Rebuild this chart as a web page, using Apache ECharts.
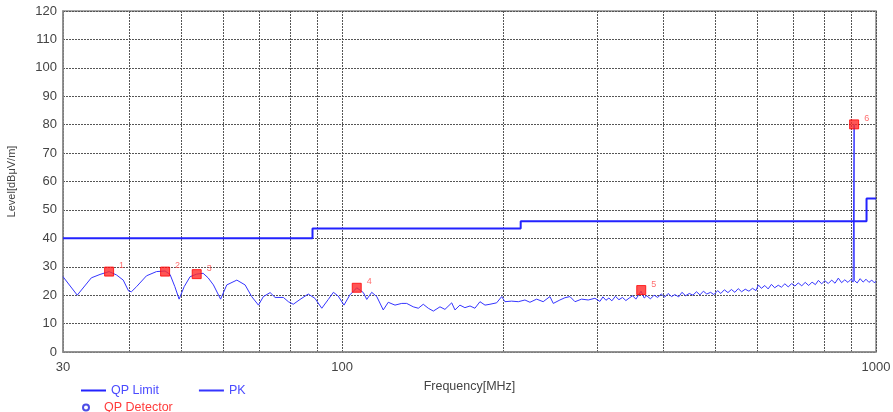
<!DOCTYPE html>
<html>
<head>
<meta charset="utf-8">
<script src="https://cdn.jsdelivr.net/npm/echarts@6/dist/echarts.min.js"></script>
<style>html,body{margin:0;padding:0;background:#fff}#c{width:893px;height:412px}</style>
</head>
<body>
<div id="c"></div>
<script>
// ---- data ----
var xLabelValues = [30, 100, 1000];
var xGridValues = [30, 40, 50, 60, 70, 80, 90, 100, 200, 300, 400, 500, 600, 700, 800, 900, 1000];
var qpLimit = [[30, 40], [88, 40], [88, 43.5], [216, 43.5], [216, 46], [960, 46], [960, 54], [1000, 54]];
var pkTrace = [
  [30, 26.5], [31.9, 20.0], [33.9, 26.1], [35.2, 27.3], [36.6, 28.3], [37.8, 27.1], [38.9, 25.3], [39.8, 21.5],
  [40.3, 21.2], [41.2, 23.0], [43.0, 26.8], [44.9, 28.3], [46.6, 28.5], [47.6, 27.3], [48.6, 23.0], [49.5, 18.6],
  [50.6, 23.0], [51.9, 26.5], [53.4, 27.4], [54.9, 27.7], [56.1, 26.1], [57.4, 23.6], [59.2, 18.6], [60.8, 23.6],
  [63.5, 25.3], [65.8, 23.6], [67.7, 19.5], [69.7, 16.5], [71.2, 19.5], [73.3, 20.9], [74.9, 19.2], [77.6, 19.2],
  [79.3, 17.7], [81.0, 16.8], [83.4, 18.5], [86.4, 20.4], [88.9, 18.9], [91.6, 15.4], [94.2, 18.5], [96.3, 21.0],
  [98.3, 19.7], [100.8, 16.5], [103.4, 20.1], [106.5, 22.6], [109.6, 20.9], [111.2, 18.5], [113.6, 21.0], [116.1, 19.5],
  [119.4, 14.8], [122.0, 17.5], [125.6, 16.5], [129.3, 17.1], [132.1, 17.1], [135.9, 15.9], [138.9, 15.4], [141.9, 16.8],
  [145.0, 15.4], [148.2, 14.4], [152.5, 15.9], [155.8, 15.0], [160.4, 17.3], [162.7, 14.8], [166.2, 16.5], [169.8, 15.6],
  [173.6, 16.2], [177.3, 15.4], [181.2, 17.7], [185.2, 16.5], [189.2, 16.8], [194.7, 17.3], [199.0, 19.5], [201.8, 17.7],
  [207.7, 17.9], [213.8, 17.7], [220.0, 18.3], [224.8, 17.5], [231.4, 18.6], [238.0, 17.7], [245.0, 19.5], [248.6, 17.1],
  [255.8, 18.3], [261.4, 19.1], [267.1, 19.5], [273.0, 17.7], [280.9, 18.6], [289.1, 18.3], [297.5, 18.9],
  [304, 17.8], [308, 19.4], [312, 18.2], [316, 19.0], [320, 18.0], [325, 19.6], [330, 18.4], [335, 19.2], [340, 18.1],
  [345, 19.0], [350, 19.8], [355, 18.6], [363, 21.4], [368, 19.0], [372, 19.8], [378, 18.7], [384, 20.0], [390, 19.2],
  [396, 20.4], [402, 19.3], [408, 20.6], [414, 19.5], [420, 20.2], [427, 19.4], [433, 21.0], [440, 19.8], [447, 20.6],
  [454, 20.0], [461, 21.2], [468, 20.1], [475, 21.4], [482, 20.4], [490, 21.0], [497, 20.2], [505, 21.6], [512, 20.6],
  [520, 21.9], [528, 20.9], [536, 22.0], [544, 21.0], [552, 22.3], [560, 21.2], [569, 22.1], [578, 21.4], [587, 22.4],
  [596, 21.6], [602, 23.6], [610, 22.4], [619, 23.4], [628, 22.2], [637, 23.8], [646, 22.6], [656, 23.5], [665, 22.8],
  [675, 24.0], [685, 22.9], [695, 24.1], [705, 23.2], [715, 24.3], [726, 23.3], [737, 24.5], [748, 23.4], [759, 24.6],
  [770, 23.7], [780, 25.2], [791, 24.0], [802, 25.1], [814, 24.1], [826, 25.3], [838, 24.2], [850, 26.0], [862, 24.4],
  [874, 25.4], [886, 24.5], [898, 25.6], [906, 24.6], [910, 80.0], [910.5, 25.2], [922, 24.3], [934, 25.8], [946, 24.6],
  [958, 25.6], [970, 24.5], [982, 25.3], [992, 24.4], [1000, 24.8]
];
var markerFreq = [36.6, 46.6, 53.4, 106.5, 363.3, 910];
var markerLevel = [28.3, 28.3, 27.4, 22.6, 21.8, 80.1];
var markerNames = ['1', '2', '3', '4', '5', '6'];

// ---- chart ----
var markers = markerFreq.map(function (f, i) { return { value: [f, markerLevel[i]], name: markerNames[i] }; });
var chart = echarts.init(document.getElementById('c'), null, { renderer: 'canvas' });
var font = 'Arial, "Liberation Sans", sans-serif';
chart.setOption({
  animation: false,
  backgroundColor: '#fff',
  grid: { left: 63, right: 17, top: 11, bottom: 60, show: true, borderColor: '#8c8c8c', borderWidth: 1.5, outerBoundsMode: 'none', containLabel: false },
  legend: [
    {
      data: [
        { name: 'QP Limit', icon: 'rect', textStyle: { color: '#4a4aff' } },
        { name: 'PK', icon: 'rect', textStyle: { color: '#4a4aff' } }
      ],
      left: 76, top: 379, itemWidth: 25, itemHeight: 2, itemGap: 40, orient: 'horizontal',
      textStyle: { fontFamily: font, fontSize: 12.5 }
    },
    {
      data: [
        { name: 'QP Detector', icon: 'circle', itemStyle: { color: '#fff', borderColor: '#2020e0', borderWidth: 2 }, textStyle: { color: '#ff3b3b' } }
      ],
      left: 77, top: 396, itemWidth: 20, itemHeight: 6,
      textStyle: { fontFamily: font, fontSize: 12.5, padding: [0, 0, 0, 3] }
    }
  ],
  xAxis: {
    type: 'log', logBase: 10, min: 30, max: 1000,
    name: 'Frequency[MHz]', nameLocation: 'middle', nameGap: 28,
    nameTextStyle: { fontFamily: font, fontSize: 12.5, color: '#444' },
    axisLine: { show: true, lineStyle: { color: '#8c8c8c', width: 1.5 } },
    axisTick: { show: false, customValues: xGridValues },
    axisLabel: { customValues: xLabelValues, fontFamily: font, fontSize: 13, color: '#444', margin: 9,
      formatter: function (v) { return String(Math.round(v)); } },
    splitLine: { show: true, lineStyle: { color: '#555', type: [2, 1], width: 1 } },
    minorSplitLine: { show: false }
  },
  yAxis: {
    type: 'value', min: 0, max: 120, interval: 10,
    name: 'Level[dBμV/m]', nameLocation: 'middle', nameGap: 46, nameRotate: 90,
    nameTextStyle: { fontFamily: font, fontSize: 11, color: '#444' },
    axisLine: { show: true, lineStyle: { color: '#8c8c8c', width: 1.5 } },
    axisTick: { show: false },
    axisLabel: { fontFamily: font, fontSize: 13, color: '#444', margin: 6 },
    splitLine: { show: true, lineStyle: { color: '#555', type: [2, 1], width: 1 } }
  },
  series: [
    {
      name: 'QP Limit', type: 'line', data: qpLimit, showSymbol: false, symbol: 'none',
      lineStyle: { color: '#2323ff', width: 2 }, itemStyle: { color: '#2323ff' }, z: 3
    },
    {
      name: 'PK', type: 'line', data: pkTrace, showSymbol: false, symbol: 'none',
      lineStyle: { color: '#3535ff', width: 1 }, itemStyle: { color: '#3535ff' }, z: 2
    },
    {
      name: 'QP Detector', type: 'scatter', data: markers, symbol: 'rect', symbolSize: 9,
      itemStyle: { color: '#ff2a2a', borderColor: '#ff0000', borderWidth: 1 },
      label: { show: true, formatter: '{b}', position: 'right', offset: [0, -6], color: '#ff4a4a', fontSize: 9, fontFamily: font },
      z: 5
    }
  ]
});
</script>
</body>
</html>
